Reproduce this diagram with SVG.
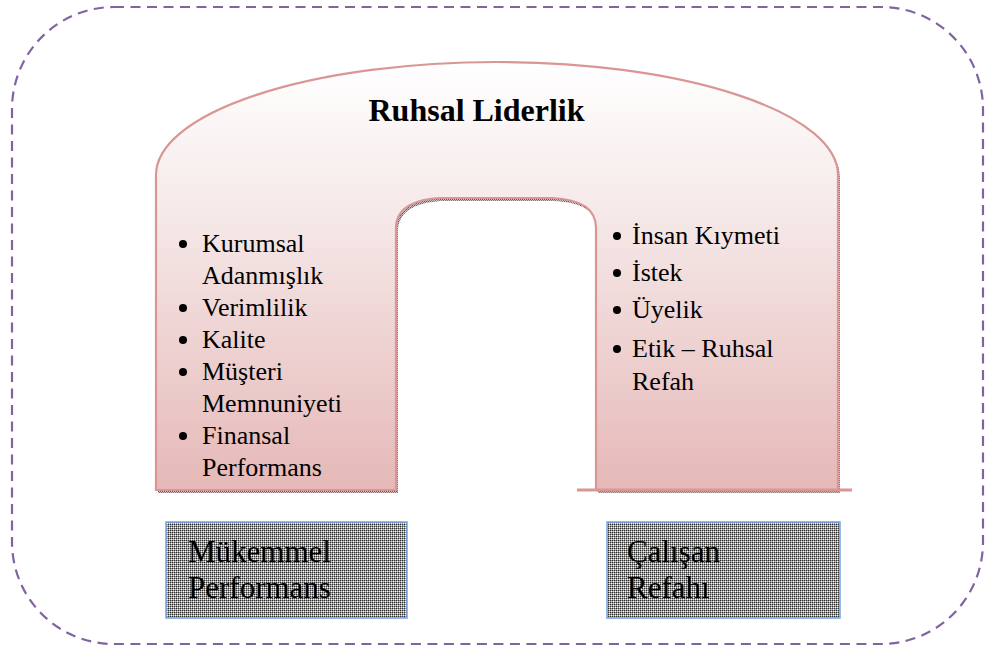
<svg xmlns="http://www.w3.org/2000/svg" width="986" height="651" viewBox="0 0 986 651">
  <defs>
    <style>
      .frame { fill: none; stroke: #8064A2; stroke-width: 2.2; stroke-dasharray: 10 6.5; }
      .arch { fill: url(#archFill); stroke: #D99694; stroke-width: 2.2; }
      .edge { stroke: #D99694; stroke-width: 3; }
      .box { fill: url(#dots); stroke: #7FA8EA; stroke-width: 1.6; }
      .title { font-family: "Liberation Serif", "Times New Roman", serif; font-size: 32px; font-weight: bold; fill: #000; }
      .item { font-family: "Liberation Serif", "Times New Roman", serif; font-size: 26px; fill: #000; }
      .label { font-family: "Liberation Serif", "Times New Roman", serif; font-size: 31px; fill: #000; }
    </style>
    <linearGradient id="archFill" x1="0" y1="60" x2="0" y2="492" gradientUnits="userSpaceOnUse">
      <stop offset="0" stop-color="#FFFFFF"/>
      <stop offset="0.35" stop-color="#F6E9E9"/>
      <stop offset="1" stop-color="#E5B8B7"/>
    </linearGradient>
    <!-- fine dotted texture used for the shadow -->
    <pattern id="shadowDots" width="2" height="2" patternUnits="userSpaceOnUse">
      <rect width="2" height="2" fill="#CFC5C5"/>
      <rect width="1" height="1" fill="#5E5454"/>
      <rect x="1" y="1" width="1" height="1" fill="#847A7A"/>
    </pattern>
    <!-- dotted texture used for the two result boxes -->
    <pattern id="dots" width="4" height="4" patternUnits="userSpaceOnUse">
      <rect width="4" height="4" fill="#9A9A9A"/>
      <rect x="0" y="0" width="1" height="1" fill="#303030"/>
      <rect x="2" y="0" width="1" height="1" fill="#303030"/>
      <rect x="0" y="2" width="1" height="1" fill="#303030"/>
      <rect x="2" y="2" width="1" height="1" fill="#303030"/>
      <rect x="1" y="1" width="1" height="1" fill="#FFFFFF"/>
      <rect x="3" y="3" width="1" height="1" fill="#FFFFFF"/>
      <rect x="1" y="3" width="1" height="1" fill="#EDEDED"/>
      <rect x="3" y="1" width="1" height="1" fill="#D0D0D0"/>
    </pattern>
  </defs>

  <!-- dashed outer frame -->
  <rect class="frame" x="12" y="7" width="971" height="637" rx="102" ry="102"/>

  <!-- arch: Ruhsal Liderlik -->
  <g id="arch">
    <path fill="url(#shadowDots)" transform="translate(2,3)"
      d="M156,490 V175 A341,113 0 0 1 838,175 V490 H596 V228 C596,206 576,199 552,198 H440 C418,199 396,206 396,228 V490 Z"/>
    <path class="arch"
      d="M156,490 V175 A341,113 0 0 1 838,175 V490 H596 V228 C596,206 576,199 552,198 H440 C418,199 396,206 396,228 V490 Z"/>
    <line class="edge" x1="577" y1="490" x2="852" y2="490"/>
    <text class="title" x="476.5" y="121" text-anchor="middle">Ruhsal Liderlik</text>
  </g>

  <!-- left column items -->
  <g id="left-items">
    <circle cx="183" cy="244" r="4"/>
    <text class="item" x="202" y="252">Kurumsal</text>
    <text class="item" x="202" y="284">Adanmışlık</text>
    <circle cx="183" cy="308" r="4"/>
    <text class="item" x="202" y="316">Verimlilik</text>
    <circle cx="183" cy="340" r="4"/>
    <text class="item" x="202" y="348">Kalite</text>
    <circle cx="183" cy="372" r="4"/>
    <text class="item" x="202" y="380">Müşteri</text>
    <text class="item" x="202" y="412">Memnuniyeti</text>
    <circle cx="183" cy="436" r="4"/>
    <text class="item" x="202" y="444">Finansal</text>
    <text class="item" x="202" y="476">Performans</text>
  </g>

  <!-- right column items -->
  <g id="right-items">
    <circle cx="617" cy="236" r="4"/>
    <text class="item" x="632" y="244">İnsan Kıymeti</text>
    <circle cx="617" cy="273" r="4"/>
    <text class="item" x="632" y="281">İstek</text>
    <circle cx="617" cy="310" r="4"/>
    <text class="item" x="632" y="318">Üyelik</text>
    <circle cx="617" cy="349" r="4"/>
    <text class="item" x="632" y="357">Etik – Ruhsal</text>
    <text class="item" x="632" y="390">Refah</text>
  </g>

  <!-- result boxes -->
  <g id="box-performans">
    <rect class="box" x="166" y="522" width="241" height="96"/>
    <text class="label" x="188" y="562">Mükemmel</text>
    <text class="label" x="188" y="598">Performans</text>
  </g>
  <g id="box-refah">
    <rect class="box" x="607" y="522" width="233" height="96"/>
    <text class="label" x="627" y="562">Çalışan</text>
    <text class="label" x="627" y="598">Refahı</text>
  </g>
</svg>
